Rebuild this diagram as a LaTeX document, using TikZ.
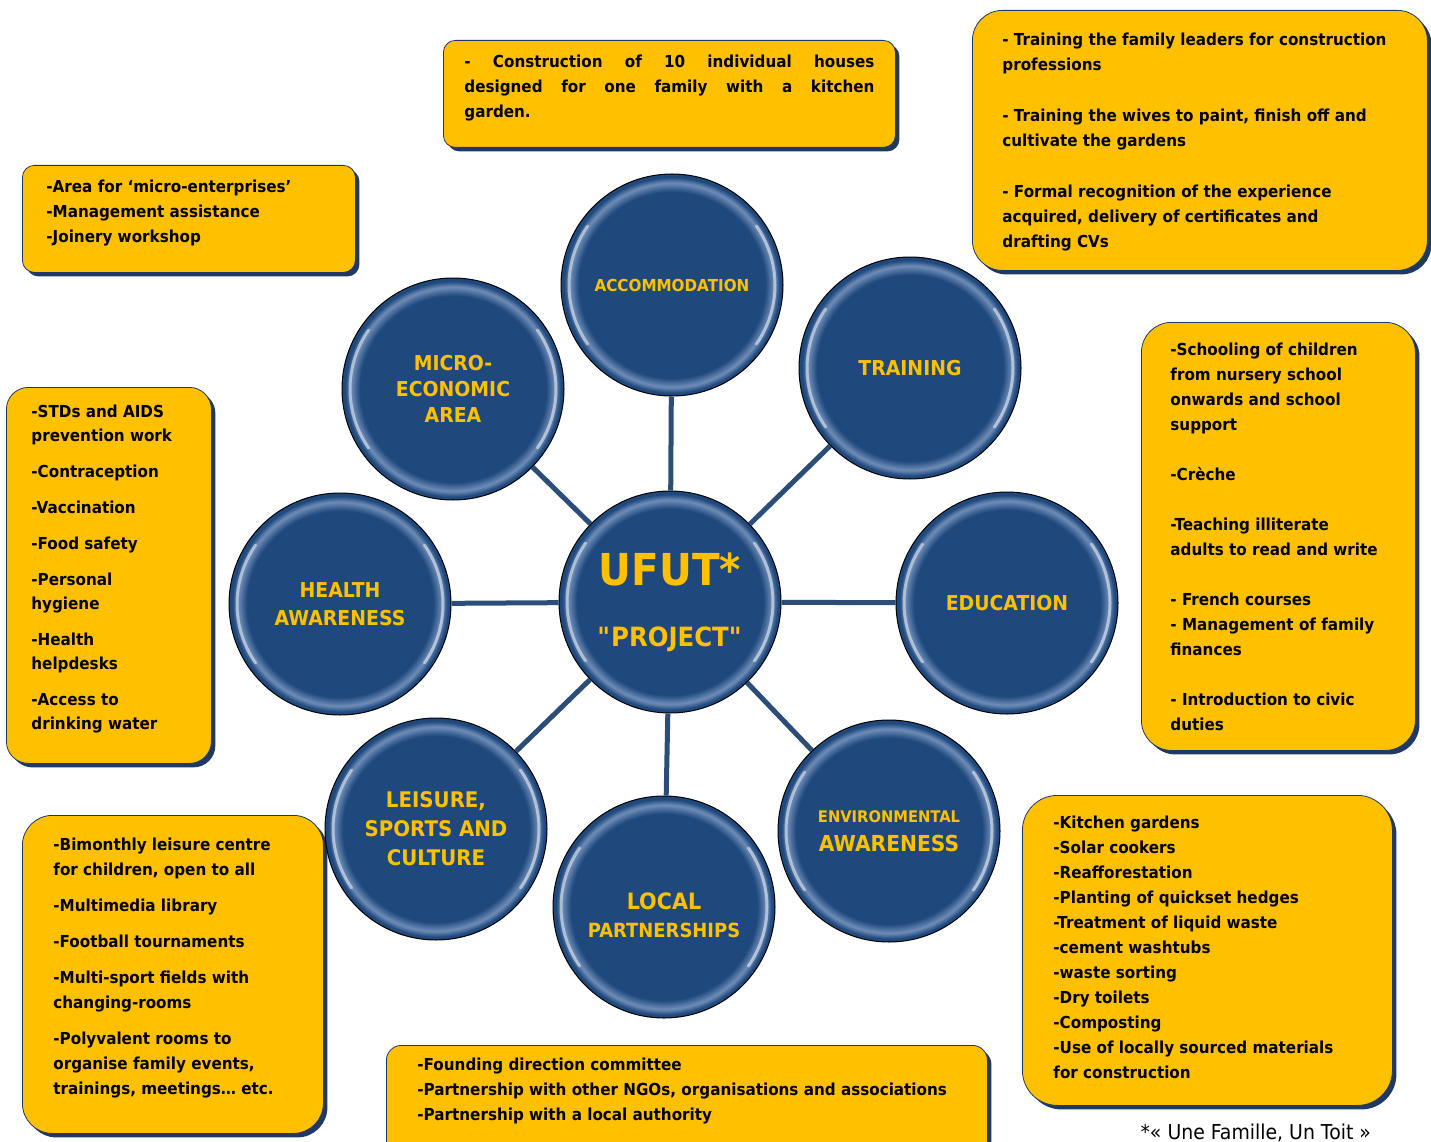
\documentclass[tikz,border=0pt]{standalone}
\usepackage{fontspec}
\setmainfont{DejaVu Sans}[FakeStretch=0.92]
\usetikzlibrary{shadows}

\definecolor{gold}{HTML}{FFC000}
\definecolor{bubblue}{HTML}{1F497D}
\definecolor{rimblue}{HTML}{6F8DB8}
\definecolor{navy}{HTML}{203864}
\definecolor{linkblue}{HTML}{2B4D78}

\pgfdeclareradialshading{glassy}{\pgfpoint{0bp}{0bp}}{color(0bp)=(bubblue); color(21bp)=(bubblue); color(23bp)=(rimblue); color(24.3bp)=(bubblue); color(25bp)=(bubblue); color(50bp)=(bubblue)}

\tikzstyle{bubble} = [circle, draw=black, line width=1pt, shade, shading=glassy,
    minimum size=222pt, inner sep=0pt, text=gold, align=center]
\tikzstyle{link} = [draw=linkblue, line width=5pt]
\tikzstyle{gloss} = [draw=white, line width=3pt, line cap=round, opacity=0.5]
\tikzset{infobox/.style={draw=navy, line width=0.8pt, fill=gold, rounded corners=#1,
    anchor=north west, inner sep=0pt, font=\fontsize{16.5}{25}\selectfont\bfseries,
    drop shadow={shadow xshift=4pt, shadow yshift=-4pt, fill=navy, opacity=1}},
  infobox/.default=12pt,
  sz/.style 2 args={font=\fontsize{#1}{#2}\selectfont\bfseries}}

% width, height, left pad, top pad, text
\newcommand{\boxtext}[5]{\parbox[c][#2][t]{#1}{\vspace*{#4}\raggedright\leftskip=#3\relax\strut#5}}

\begin{document}
\begin{tikzpicture}[x=1pt,y=-1pt]
  \useasboundingbox (0,0) rectangle (1431,1142);
  \clip (0,0) rectangle (1431,1142);

  \node[infobox] (accbox) at (443,40) {\parbox[c][107pt][t]{452pt}{\vspace*{9.5pt}%
    \leftskip=21pt\rightskip=21pt\tolerance=9999\hbadness=10000\strut
    - Construction of 10 individual houses\linebreak designed for one family with a kitchen\linebreak garden.}};
  \node[infobox=30pt] (trainbox) at (972,10) {\boxtext{455pt}{260pt}{30pt}{17.5pt}{%
    - Training the family leaders for construction\\ professions\\[26pt]
    - Training the wives to paint, finish off and\\ cultivate the gardens\\[26pt]
    - Formal recognition of the experience\\ acquired, delivery of certificates and\\ drafting CVs}};
  \node[infobox] (microbox) at (22,165) {\boxtext{333pt}{107pt}{24pt}{9.5pt}{%
    -Area for ‘micro-enterprises’\\ -Management assistance\\ -Joinery workshop}};
  \node[infobox=22pt, sz={16.5}{24}] (healthbox) at (6,387)
    {\boxtext{205pt}{376pt}{25pt}{13.2pt}{%
    -STDs and AIDS\\ prevention work\\[12pt] -Contraception\\[12pt] -Vaccination\\[12pt]
    -Food safety\\[12pt] -Personal\\ hygiene\\[12pt] -Health\\ helpdesks\\[12pt]
    -Access to\\ drinking water}};
  \node[infobox=30pt] (edubox) at (1141,322) {\boxtext{274pt}{428pt}{29pt}{15.5pt}{%
    -Schooling of children\\ from nursery school\\ onwards and school\\ support\\[25pt]
    -Crèche\\[25pt] -Teaching illiterate\\ adults to read and write\\[25pt]
    - French courses\\ - Management of family\\ finances\\[25pt]
    - Introduction to civic\\ duties}};
  \node[infobox=30pt] (leisbox) at (22,815) {\boxtext{301pt}{318pt}{31pt}{17.5pt}{%
    -Bimonthly leisure centre\\ for children, open to all\\[11pt] -Multimedia library\\[11pt]
    -Football tournaments\\[11pt] -Multi-sport fields with\\ changing-rooms\\[11pt]
    -Polyvalent rooms to\\ organise family events,\\ trainings, meetings… etc.}};
  \node[infobox=15pt] (partbox) at (386,1045) {\boxtext{601pt}{115pt}{31pt}{7.5pt}{%
    -Founding direction committee\\ -Partnership with other NGOs, organisations and associations\\
    -Partnership with a local authority}};
  \node[infobox=35pt] (envbox) at (1022,795) {\boxtext{370pt}{310pt}{31pt}{15.5pt}{%
    -Kitchen gardens\\ -Solar cookers\\ -Reafforestation\\ -Planting of quickset hedges\\
    -Treatment of liquid waste\\ -cement washtubs\\ -waste sorting\\ -Dry toilets\\
    -Composting\\ -Use of locally sourced materials\\ for construction}};

  \node[anchor=base west, font=\fontsize{20.5}{22}\selectfont] (note) at (1137,1139)
    {*« Une Famille, Un Toit »};

  \node[bubble, sz={26.5}{33}] (ufut) at (670,602)
    {{\fontsize{44}{46}\selectfont UFUT*}\\[28pt]\textquotedbl PROJECT\textquotedbl};
  \node[bubble, sz={16.5}{20}] (acc) at (672,285) {ACCOMMODATION};
  \node[bubble, sz={20.5}{26}] (train) at (910,368) {TRAINING};
  \node[bubble, sz={20.5}{26}] (edu) at (1007,603) {EDUCATION};
  \node[bubble, sz={22}{29}] (env) at (889,831)
    {{\fontsize{16}{20}\selectfont ENVIRONMENTAL}\\AWARENESS};
  \node[bubble, label={[name=locallabel, yshift=-8pt, align=center, text=gold, sz={19.5}{28}]center:%
    {{\fontsize{22.5}{28}\selectfont LOCAL}\\PARTNERSHIPS}}] (local) at (664,907) {};
  \node[bubble, sz={21.5}{29}] (leis) at (436,829) {LEISURE,\\SPORTS AND\\CULTURE};
  \node[bubble, sz={20.5}{28}] (health) at (340,604) {HEALTH\\AWARENESS};
  \node[bubble, sz={20.5}{26}] (micro) at (453,389) {MICRO-\\ECONOMIC\\AREA};

  \foreach \n in {ufut,acc,train,edu,env,local,leis,health,micro} {
    \draw[gloss] ([shift={(145:103)}]\n.center) arc[start angle=145, end angle=215, radius=103];
    \draw[gloss] ([shift={(-35:103)}]\n.center) arc[start angle=-35, end angle=35, radius=103];
  }

  \foreach \t in {acc,train,edu,env,local,leis,health,micro}
    \draw[link] (ufut) -- (\t);
\end{tikzpicture}
\end{document}
